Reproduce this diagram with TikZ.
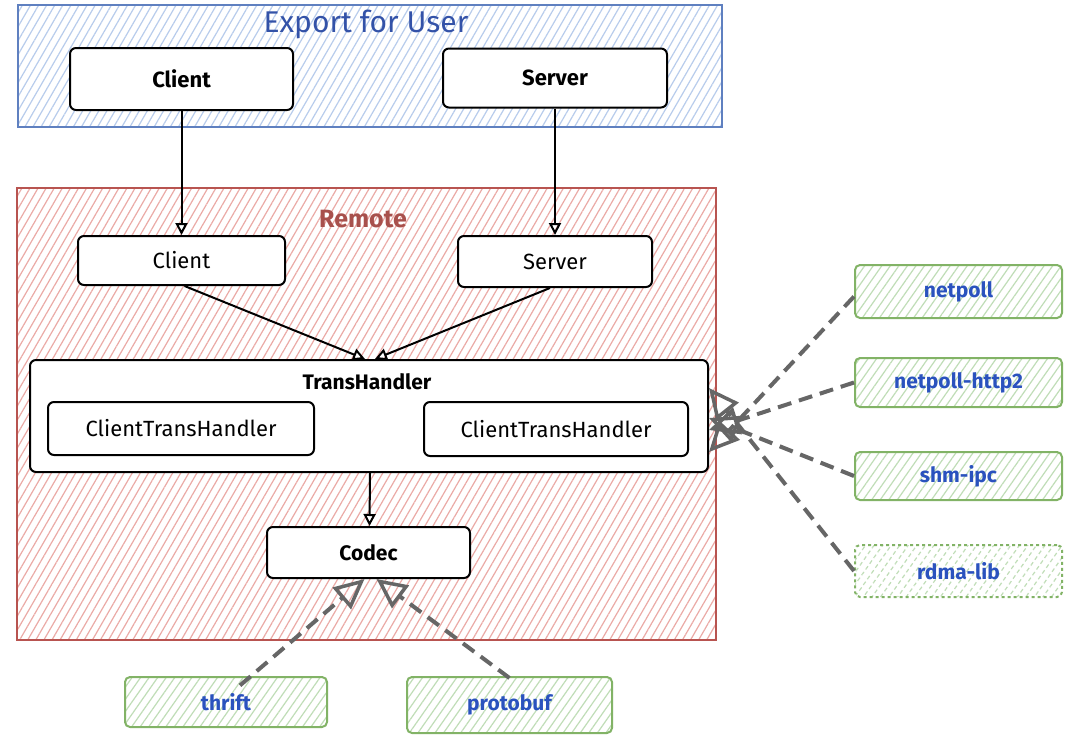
\documentclass[tikz,border=0pt]{standalone}
\usepackage{fontspec}
\setmainfont{Fira Sans}
\usetikzlibrary{arrows.meta,patterns.meta}
\definecolor{bluebd}{HTML}{5F80C0}
\definecolor{bluehatch}{HTML}{B8CCEC}
\definecolor{bluetxt}{HTML}{3352A8}
\definecolor{redbd}{HTML}{B85450}
\definecolor{redtxt}{HTML}{A8504C}
\definecolor{redhatch}{HTML}{EBAAA6}
\definecolor{greenbd}{HTML}{82B366}
\definecolor{greenhatch}{HTML}{C0DDB7}
\definecolor{gtxt}{HTML}{2A52BE}
\definecolor{dashgray}{HTML}{666666}
\tikzset{
  fs/.style={font=\fontsize{#1}{#1}\selectfont},
  bfs/.style={font=\fontsize{#1}{#1}\selectfont\bfseries},
  wbox/.style={draw=black, line width=2pt, rounded corners=6pt, fill=white, inner sep=0pt, align=center},
  gbox/.style={draw=greenbd, line width=2pt, rounded corners=5pt, inner sep=0pt,
    preaction={fill=white}, pattern={Lines[angle=55,distance=7pt,line width=1.2pt]}, pattern color=greenhatch,
    text=gtxt, font=\fontsize{21}{21}\selectfont\bfseries},
  blk/.style={-{Triangle[open,length=12pt,width=12pt]}, line width=2pt, black},
  dsh/.style={-{Triangle[open,length=30pt,width=28pt,line width=3.5pt]}, line width=4pt, dashgray, dash pattern=on 14pt off 8pt},
}
\begin{document}
\begin{tikzpicture}[x=1pt,y=-1pt]
\useasboundingbox (0,0) rectangle (1076,744);
% groups
\path[draw=bluebd, line width=2pt, preaction={fill=white}, pattern={Lines[angle=60,distance=7pt,line width=1.2pt]}, pattern color=bluehatch]
  (18,5) rectangle (722,127);
\node[text=bluetxt, fs=30] (exptitle) at (366,24) {Export for User};
\path[draw=redbd, line width=2pt, preaction={fill=white}, pattern={Lines[angle=60,distance=7pt,line width=1.2pt]}, pattern color=redhatch]
  (17,188) rectangle (716,640);
\node[text=redtxt, bfs=25] (remtitle) at (363,219) {Remote};
% top boxes
\node[wbox, minimum width=223pt, minimum height=62pt, bfs=22] (topC) at (181.5,79) {Client};
\node[wbox, minimum width=224pt, minimum height=59pt, bfs=22] (topS) at (555,78) {Server};
% remote boxes
\node[wbox, minimum width=207pt, minimum height=49pt, fs=22] (remC) at (181.5,260.5) {Client};
\node[wbox, minimum width=194pt, minimum height=51pt, fs=22] (remS) at (555,261.5) {Server};
\node[wbox, minimum width=678pt, minimum height=112pt] (th) at (369,416) {};
\node[bfs=21] (thlabel) at (367,382) {TransHandler};
\node[wbox, minimum width=266pt, minimum height=53pt, fs=22] (cth1) at (181,428.5) {ClientTransHandler};
\node[wbox, minimum width=264pt, minimum height=54pt, fs=22] (cth2) at (556,429) {ClientTransHandler};
\node[wbox, minimum width=203pt, minimum height=51pt, bfs=21] (codec) at (368.5,552.5) {Codec};
% green boxes
\node[gbox, minimum width=202pt, minimum height=50pt] (thrift) at (226,702) {thrift};
\node[gbox, minimum width=205pt, minimum height=56pt] (protobuf) at (509.5,705) {protobuf};
\node[gbox, minimum width=207pt, minimum height=53pt] (netpoll) at (958.5,291.5) {netpoll};
\node[gbox, minimum width=207pt, minimum height=49pt] (http2) at (958.5,382.5) {netpoll-http2};
\node[gbox, minimum width=207pt, minimum height=48pt] (shm) at (958.5,476) {shm-ipc};
\node[gbox, minimum width=207pt, minimum height=52pt, dashed] (rdma) at (958.5,571) {rdma-lib};
% black arrows
\draw[blk] (topC.south) -- (remC.north);
\draw[blk] (topS.south) -- (remS.north);
\draw[blk] ([xshift=3pt]remC.south) -- ([xshift=-4pt]th.north);
\draw[blk] ([xshift=-5pt]remS.south) -- ([xshift=6pt]th.north);
\draw[blk] ([xshift=1pt]th.south) -- ([xshift=1pt]codec.north);
% dashed arrows
\draw[dsh] ([xshift=14pt,yshift=-9pt]thrift.north) -- ([xshift=-4pt]codec.south);
\draw[dsh] ([yshift=-2pt]protobuf.north) -- ([xshift=8pt]codec.south);
\draw[dsh] ([yshift=-5pt]netpoll.west) -- ([yshift=-36pt]th.east);
\draw[dsh] (http2.west) -- ([yshift=-14pt]th.east);
\draw[dsh] (shm.west) -- ([yshift=-2pt]th.east);
\draw[dsh] (rdma.west) -- ([yshift=28pt]th.east);
\end{tikzpicture}
\end{document}
